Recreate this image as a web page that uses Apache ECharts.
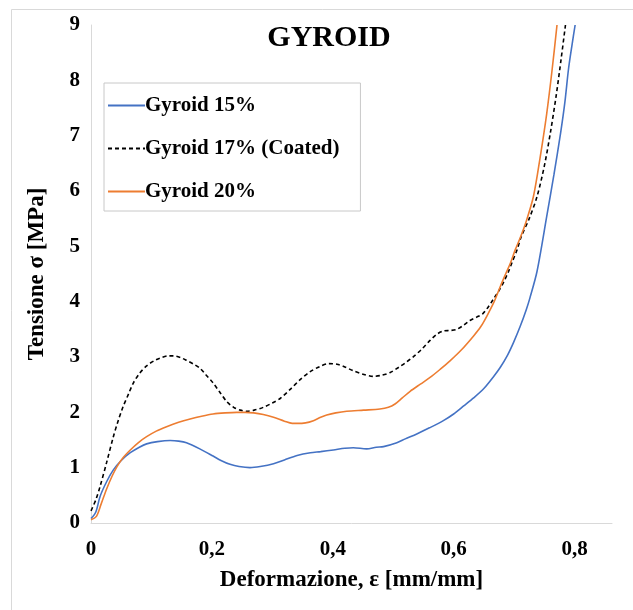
<!DOCTYPE html>
<html><head><meta charset="utf-8">
<script src="https://cdn.jsdelivr.net/npm/echarts@6/dist/echarts.min.js"></script>
<style>html,body{margin:0;padding:0;background:#fff}#c{width:633px;height:610px}</style>
</head><body><div id="c"></div>
<script>
var seriesNames = ['Gyroid 15%', 'Gyroid 17% (Coated)', 'Gyroid 20%'];
var xTicks = [0, 0.2, 0.4, 0.6, 0.8];
var yTicks = [0,1,2,3,4,5,6,7,8,9];
// [strain, stress]
var gyroid15 = [[0,0.08],[0.008,0.2],[0.015,0.48],[0.026,0.75],[0.037,0.96],[0.05,1.13],[0.065,1.27],[0.08,1.37],[0.092,1.43],[0.11,1.47],[0.131,1.49],[0.145,1.48],[0.158,1.45],[0.18,1.34],[0.202,1.21],[0.215,1.13],[0.23,1.06],[0.245,1.02],[0.263,1.0],[0.28,1.02],[0.302,1.07],[0.32,1.14],[0.341,1.22],[0.363,1.27],[0.38,1.29],[0.401,1.32],[0.42,1.35],[0.434,1.36],[0.456,1.34],[0.472,1.37],[0.484,1.38],[0.506,1.45],[0.52,1.52],[0.539,1.61],[0.56,1.72],[0.583,1.85],[0.6,1.97],[0.616,2.11],[0.633,2.26],[0.65,2.43],[0.665,2.63],[0.677,2.81],[0.689,3.03],[0.699,3.26],[0.71,3.55],[0.72,3.85],[0.726,4.06],[0.738,4.55],[0.754,5.54],[0.766,6.30],[0.777,7.05],[0.784,7.60],[0.790,8.20],[0.796,8.65],[0.801,9.0]];
var gyroid17 = [[0,0.22],[0.008,0.42],[0.015,0.66],[0.026,1.1],[0.037,1.56],[0.045,1.85],[0.053,2.10],[0.062,2.33],[0.07,2.53],[0.08,2.70],[0.092,2.84],[0.104,2.93],[0.114,2.98],[0.128,3.02],[0.136,3.02],[0.148,2.99],[0.158,2.94],[0.17,2.87],[0.18,2.80],[0.19,2.68],[0.202,2.53],[0.214,2.35],[0.225,2.19],[0.236,2.09],[0.247,2.04],[0.258,2.02],[0.27,2.04],[0.285,2.09],[0.30,2.17],[0.313,2.25],[0.33,2.42],[0.346,2.59],[0.362,2.73],[0.379,2.83],[0.393,2.88],[0.407,2.87],[0.42,2.82],[0.434,2.75],[0.45,2.69],[0.467,2.65],[0.481,2.67],[0.495,2.72],[0.51,2.82],[0.522,2.91],[0.534,3.01],[0.548,3.15],[0.561,3.30],[0.572,3.41],[0.583,3.47],[0.595,3.48],[0.605,3.50],[0.616,3.57],[0.627,3.66],[0.638,3.72],[0.648,3.78],[0.657,3.90],[0.666,4.05],[0.675,4.20],[0.683,4.36],[0.691,4.55],[0.697,4.72],[0.705,4.94],[0.712,5.18],[0.725,5.50],[0.738,5.90],[0.75,6.45],[0.760,7.05],[0.770,7.75],[0.778,8.40],[0.785,9.0]];
var gyroid20 = [[0,0.06],[0.009,0.12],[0.017,0.35],[0.026,0.62],[0.035,0.85],[0.043,1.02],[0.053,1.18],[0.065,1.32],[0.078,1.45],[0.092,1.56],[0.108,1.66],[0.125,1.74],[0.145,1.82],[0.164,1.88],[0.183,1.93],[0.202,1.97],[0.222,1.99],[0.241,2.0],[0.255,2.0],[0.269,1.99],[0.285,1.96],[0.302,1.91],[0.32,1.84],[0.333,1.80],[0.341,1.80],[0.355,1.81],[0.368,1.85],[0.38,1.91],[0.39,1.95],[0.405,1.99],[0.423,2.02],[0.451,2.04],[0.478,2.06],[0.492,2.09],[0.503,2.15],[0.515,2.26],[0.528,2.38],[0.545,2.51],[0.561,2.63],[0.578,2.78],[0.594,2.93],[0.613,3.13],[0.633,3.38],[0.645,3.55],[0.655,3.74],[0.667,4.0],[0.677,4.27],[0.686,4.50],[0.694,4.70],[0.702,4.94],[0.71,5.15],[0.72,5.45],[0.732,5.90],[0.743,6.60],[0.754,7.40],[0.763,8.20],[0.771,9.0]];

var serif = '"Liberation Serif","DejaVu Serif",serif';
var chart = echarts.init(document.getElementById('c'), null, {renderer:'canvas'});
function mk(name, data, color, dashed){
  return {name:name, type:'line', data:data, symbol:'none', smooth:0.3, clip:true,
    lineStyle:{color:color, width:1.6, type: dashed ? [4,3] : 'solid'}, itemStyle:{color:color}};
}
chart.setOption({
  animation:false,
  backgroundColor:'#fff',
  graphic:[{type:'rect', left:9, top:7, shape:{width:700, height:700}, style:{fill:'none', stroke:'#d9d9d9', lineWidth:1}, silent:true}],
  title:{text:'GYROID', left:324, top:18, textAlign:'center', textStyle:{fontFamily:serif, fontWeight:'bold', fontSize:30, color:'#000'}},
  legend:{orient:'vertical', left:104, top:83, itemWidth:37, itemHeight:12, itemGap:22,
    padding:[12,21,9,3], borderColor:'#c8c8c8', borderWidth:1, backgroundColor:'#fff',
    itemStyle:{opacity:0},
    data:seriesNames, textStyle:{fontFamily:serif, fontWeight:'bold', fontSize:21, color:'#000', padding:[0,0,0,-5]}},
  grid:{left:91, right:21, top:25, bottom:87, containLabel:false},
  xAxis:{type:'value', min:0, max:0.862, interval:0.2,
    name:'Deformazione, ε [mm/mm]', nameLocation:'middle', nameGap:46,
    nameTextStyle:{fontFamily:serif, fontWeight:'bold', fontSize:23, color:'#000'},
    axisLine:{show:true, lineStyle:{color:'#d9d9d9'}}, axisTick:{show:false}, splitLine:{show:false},
    axisLabel:{margin:16, fontFamily:serif, fontWeight:'bold', fontSize:21, color:'#000',
      formatter:function(v){ for (var i=0;i<xTicks.length;i++){ if (Math.abs(v-xTicks[i])<1e-6) return String(xTicks[i]).replace('.',','); } return ''; }}},
  yAxis:{type:'value', min:0, max:9, interval:1,
    name:'Tensione σ [MPa]', nameLocation:'middle', nameGap:42, nameRotate:90,
    nameTextStyle:{fontFamily:serif, fontWeight:'bold', fontSize:23, color:'#000'},
    axisLine:{show:true, lineStyle:{color:'#d9d9d9'}}, axisTick:{show:false}, splitLine:{show:false},
    axisLabel:{margin:11, fontFamily:serif, fontWeight:'bold', fontSize:21, color:'#000',
      formatter:function(v){ return yTicks.indexOf(v)>=0 ? String(v) : ''; }}},
  series:[mk(seriesNames[0], gyroid15, '#4472C4', false), mk(seriesNames[1], gyroid17, '#000000', true), mk(seriesNames[2], gyroid20, '#ED7D31', false)]
});
</script></body></html>
